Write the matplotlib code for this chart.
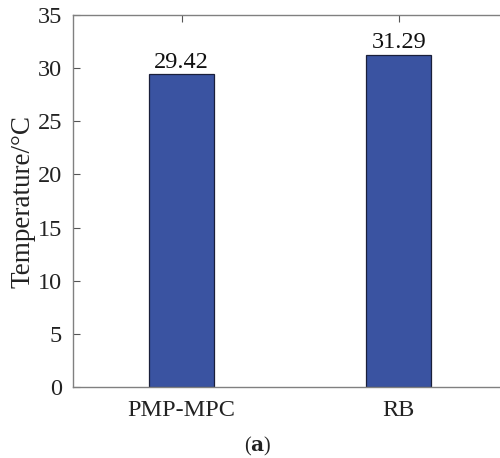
import matplotlib
matplotlib.use("Agg")
import matplotlib.pyplot as plt

# Average temperature per control strategy
categories = ["PMP-MPC", "RB"]
temperatures = [29.42, 31.29]
y_ticks = [0, 5, 10, 15, 20, 25, 30, 35]

plt.rcParams["font.family"] = "serif"
plt.rcParams["font.serif"] = ["Liberation Serif"]
plt.rcParams["mathtext.fontset"] = "custom"
plt.rcParams["mathtext.rm"] = "DejaVu Serif"
plt.rcParams["mathtext.bf"] = "DejaVu Serif:bold"

fig = plt.figure(figsize=(5.0, 4.58), dpi=100)
# axes extend slightly past the right edge of the figure
ax = fig.add_axes([0.146, 0.155, 0.869, 0.812])

x = list(range(1, len(categories) + 1))
ax.bar(x, temperatures, width=0.3, color="#3a53a1",
       edgecolor="#1a1f3a", linewidth=0.9, zorder=2)

for xi, v in zip(x, temperatures):
    ax.text(xi, v + 0.1, f"{v:.2f}", ha="center", va="bottom",
            fontsize=17.5, color="#111111")

ax.set_xlim(0.5, 2.5)
ax.set_ylim(0, 35)
ax.set_yticks(y_ticks)
ax.set_xticks(x)
ax.set_xticklabels(categories)
ax.set_ylabel("Temperature/°C", fontsize=19.5, color="#222222", labelpad=1.5)

for side, sp in ax.spines.items():
    sp.set_color("#808080")
    sp.set_linewidth(1.0)

ax.tick_params(axis="both", direction="in", length=5, width=0.8,
               color="#555555", labelsize=17.5, labelcolor="#222222",
               top=True, right=True)
ax.tick_params(axis="x", pad=9)
ax.tick_params(axis="y", pad=8)

fig.text(0.516, 0.026, r"($\mathbf{a}$)", ha="center", va="center",
         fontsize=14.5, color="#222222")

fig.savefig("out.png", dpi=100)
